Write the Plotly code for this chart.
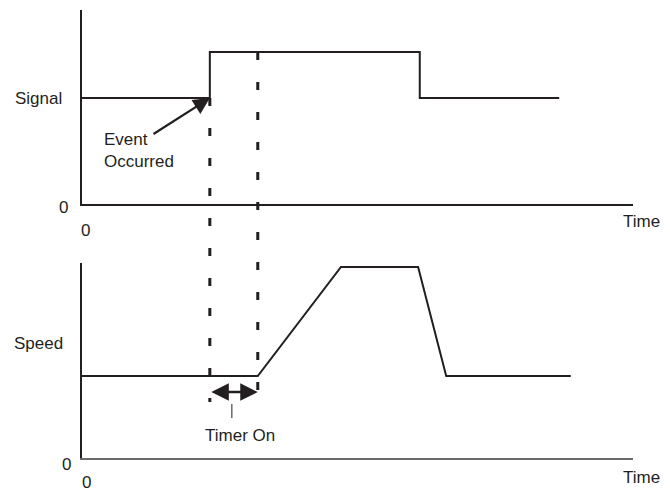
import plotly.graph_objects as go
from plotly.subplots import make_subplots

# time axis runs 0..100 (arbitrary units), levels are 0..100 of each panel
sig_t = [0, 23.2, 23.2, 61.3, 61.3, 86.6]
sig_v = [54.6, 54.6, 78.4, 78.4, 54.6, 54.6]

spd_t = [0, 31.9, 47.0, 61.0, 66.1, 88.7]
spd_v = [42, 42, 98, 98, 42, 42]

event_t = 23.2      # event occurred
timer_t = 31.9      # timer done
marker_y = 33.8     # height of the timer arrow in speed panel
arrow_tail = (12.7, 35.6)

ink = "#231f20"
font = dict(family="Liberation Sans, Arial, sans-serif", size=17, color=ink)

# page body keeps an 8px margin, so the figure sits at (8, 8)
W, H = 662, 484

def px(x):
    return (x - 8) / W

def py(y):
    return (H + 8 - y) / H

fig = make_subplots(rows=2, cols=1, vertical_spacing=0.0)

fig.add_trace(go.Scatter(x=sig_t, y=sig_v, mode="lines",
                         line=dict(color=ink, width=2), showlegend=False), row=1, col=1)
fig.add_trace(go.Scatter(x=spd_t, y=spd_v, mode="lines",
                         line=dict(color=ink, width=2), showlegend=False), row=2, col=1)

xdom = [px(82), px(633)]
ydom_top = [py(204), py(10)]
ydom_bot = [py(458), py(263)]

ax_common = dict(range=[0, 100], showgrid=False, zeroline=False, showline=True,
                 linewidth=1.5, ticks="", showticklabels=False)
fig.update_layout(
    xaxis=dict(ax_common, domain=xdom, linecolor=ink),
    xaxis2=dict(ax_common, domain=xdom, linecolor="#6b6b6b"),
    yaxis=dict(ax_common, domain=ydom_top, linecolor=ink),
    yaxis2=dict(ax_common, domain=ydom_bot, linecolor=ink),
)

def to_paper(v, dom):
    return dom[0] + v / 100 * (dom[1] - dom[0])

# dashed guide lines crossing both panels
bottom_end = to_paper(28.7, ydom_bot)
for t, v in [(event_t, sig_v[1]), (timer_t, sig_v[2])]:
    fig.add_shape(type="line", xref="x", yref="paper", x0=t, x1=t,
                  y0=to_paper(v, ydom_top), y1=bottom_end,
                  line=dict(color=ink, width=3, dash="8px,22px"))

# timer-on tick
fig.add_shape(type="line", xref="x2", yref="y2", x0=27.2, x1=27.2, y0=27.7, y1=20.5,
              line=dict(color=ink, width=1))

def label(text, x, y, xref="paper", yref="paper", xanchor="left", **kw):
    return dict(x=x, y=y, xref=xref, yref=yref, text=text, showarrow=False,
                xanchor=xanchor, yanchor="middle", font=font, **kw)

annotations = [
    label("Signal", px(13), sig_v[0], yref="y"),
    label("Speed", px(12), 58.5, yref="y2"),
    label("Event<br>Occurred", 3.6, 27.8, xref="x", yref="y", align="left"),
    label("Timer On", 28.7, 11.3, xref="x2", yref="y2", xanchor="center"),
    label("Time", px(621), py(221)),
    label("Time", px(621), py(477)),
    label("0", px(63.5), py(207), xanchor="center"),
    label("0", 0.55, py(231), xref="x", xanchor="center"),
    label("0", px(66), py(464), xanchor="center"),
    label("0", 0.9, py(482), xref="x2", xanchor="center"),
    # event arrow
    dict(x=event_t, y=sig_v[0], xref="x", yref="y", ax=arrow_tail[0], ay=arrow_tail[1],
         axref="x", ayref="y", text="", showarrow=True, arrowhead=2, arrowsize=1.5,
         arrowwidth=2.2, arrowcolor=ink, standoff=0),
    # timer double arrow
    dict(x=timer_t, y=marker_y, xref="x2", yref="y2", ax=event_t, ay=marker_y,
         axref="x2", ayref="y2", text="", showarrow=True, arrowhead=2, startarrowhead=2,
         arrowside="end+start", arrowsize=1.4, startarrowsize=1.4, arrowwidth=2.5,
         arrowcolor=ink, standoff=0, startstandoff=0),
]
fig.update_layout(annotations=annotations)

fig.update_layout(width=W, height=H, margin=dict(l=0, r=0, t=0, b=0),
                  plot_bgcolor="white", paper_bgcolor="white", showlegend=False)

fig.write_html("out.html")
